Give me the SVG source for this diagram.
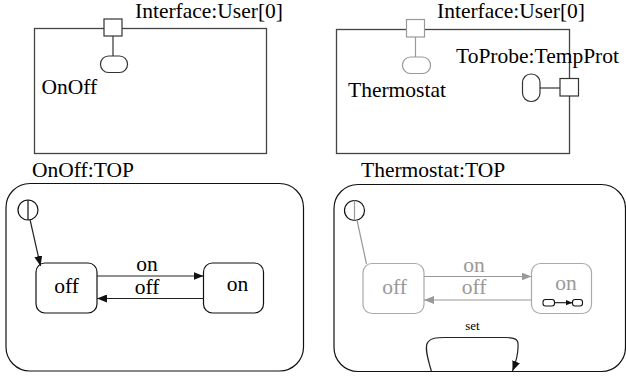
<svg xmlns="http://www.w3.org/2000/svg" width="626" height="376" viewBox="0 0 626 376" font-family="'Liberation Serif', 'DejaVu Serif', serif">
  <style>
    text { font-family: 'Liberation Serif', 'DejaVu Serif', serif; font-size: 21.5px; fill: #000; }
    .small { font-size: 13px; }
    .grey-text { fill: #999; }
    .frame { fill: #fff; stroke: #444; stroke-width: 1.3; }
    .port { fill: #fff; stroke: #333; stroke-width: 1.2; }
    .port-g { fill: #fff; stroke: #999; stroke-width: 1.2; }
    .wire { stroke: #333; stroke-width: 1.2; fill: none; }
    .wire-g { stroke: #999; stroke-width: 1.2; fill: none; }
    .region { fill: #fff; stroke: #111; stroke-width: 1.2; }
    .state { fill: #fff; stroke: #111; stroke-width: 1.2; }
    .state-g { fill: #fff; stroke: #aaa; stroke-width: 1.2; }
    .tr { stroke: #222; stroke-width: 1.2; fill: none; }
    .tr-g { stroke: #999; stroke-width: 1.2; fill: none; }
  </style>
  <defs>
    <marker id="arr" viewBox="0 0 10 8" refX="10" refY="4" markerWidth="10" markerHeight="8" markerUnits="userSpaceOnUse" orient="auto">
      <path d="M0,0 L10,4 L0,8 Z" fill="#111"/>
    </marker>
    <marker id="arr-g" viewBox="0 0 10 8" refX="10" refY="4" markerWidth="10" markerHeight="8" markerUnits="userSpaceOnUse" orient="auto">
      <path d="M0,0 L10,4 L0,8 Z" fill="#999"/>
    </marker>
    <marker id="arr-s" viewBox="0 0 10 8" refX="10" refY="4" markerWidth="7" markerHeight="6" markerUnits="userSpaceOnUse" orient="auto">
      <path d="M0,0 L10,4 L0,8 Z" fill="#111"/>
    </marker>
  </defs>

  <!-- Structure view of OnOff -->
  <g id="onoff-structure">
    <rect class="frame" x="34.5" y="28.5" width="232" height="125"/>
    <line class="wire" x1="113" y1="36" x2="113" y2="56"/>
    <rect class="port" x="104" y="19" width="18" height="17"/>
    <rect class="port" x="100.5" y="56" width="27" height="16.5" rx="8"/>
    <text x="135" y="18">Interface:User[0]</text>
    <text x="41.5" y="94">OnOff</text>
  </g>

  <!-- Structure view of Thermostat -->
  <g id="thermostat-structure">
    <rect class="frame" x="336.5" y="29.5" width="233" height="124"/>
    <line class="wire-g" x1="415.5" y1="37" x2="415.5" y2="57"/>
    <rect class="port-g" x="406.5" y="19.5" width="18" height="17.5"/>
    <rect class="port-g" x="402.5" y="57" width="28" height="16.5" rx="8"/>
    <text x="437" y="18">Interface:User[0]</text>
    <text x="348" y="96.5">Thermostat</text>
    <text x="456" y="63">ToProbe:TempProt</text>
    <line class="wire" x1="540" y1="88" x2="560" y2="88"/>
    <rect class="port" x="560" y="78.5" width="18.5" height="17.5"/>
    <rect class="port" x="522.5" y="74" width="17.5" height="27.5" rx="8.5"/>
  </g>

  <!-- OnOff:TOP state machine -->
  <g id="onoff-top">
    <text x="32" y="176.5">OnOff:TOP</text>
    <rect class="region" x="6" y="183.5" width="297.5" height="187.5" rx="24"/>
  </g>
  <g id="onoff-initial">
    <circle cx="28" cy="210" r="10" fill="#fff" stroke="#111" stroke-width="1.2"/>
    <line x1="28" y1="200" x2="28" y2="220" stroke="#111" stroke-width="1.2"/>
  </g>
  <g id="onoff-off">
    <rect class="state" x="36" y="263" width="61" height="50" rx="9"/>
    <text x="66.5" y="292.5" text-anchor="middle">off</text>
  </g>
  <g id="onoff-on">
    <rect class="state" x="203.5" y="263" width="60" height="50" rx="9"/>
    <text x="237.5" y="291" text-anchor="middle">on</text>
  </g>

  <!-- Thermostat:TOP state machine -->
  <g id="thermostat-top">
    <text x="361" y="176.5">Thermostat:TOP</text>
    <rect class="region" x="334" y="184.5" width="291.5" height="187" rx="24"/>
  </g>
  <g id="thermostat-initial">
    <circle cx="354.5" cy="210.5" r="10" fill="#fff" stroke="#111" stroke-width="1.2"/>
    <line x1="354.5" y1="200.5" x2="354.5" y2="220.5" stroke="#999" stroke-width="1.2"/>
  </g>
  <g id="thermostat-off">
    <rect class="state-g" x="363" y="263.5" width="61" height="50" rx="9"/>
    <text class="grey-text" x="394.5" y="293.5" text-anchor="middle">off</text>
  </g>
  <g id="thermostat-on">
    <rect class="state-g" x="531.5" y="263.5" width="60" height="50" rx="9"/>
    <text class="grey-text" x="566" y="290" text-anchor="middle">on</text>
    <!-- sub-machine indicator -->
    <rect x="543" y="299.5" width="11.5" height="6.5" rx="2.5" fill="#fff" stroke="#111" stroke-width="1.1"/>
    <rect x="572.5" y="299.5" width="10" height="6.5" rx="2.5" fill="#fff" stroke="#111" stroke-width="1.1"/>
    <line x1="554.5" y1="302.7" x2="572.5" y2="302.7" stroke="#111" stroke-width="1.1" marker-end="url(#arr-s)"/>
  </g>

  <!-- Transitions -->
  <g id="connectors">
    <line class="tr" x1="30" y1="219.5" x2="40.5" y2="266" marker-end="url(#arr)"/>
    <line class="tr" x1="97" y1="276" x2="203.5" y2="276" marker-end="url(#arr)"/>
    <line class="tr" x1="203.5" y1="298.5" x2="97" y2="298.5" marker-end="url(#arr)"/>
    <text x="147" y="271" text-anchor="middle">on</text>
    <text x="147" y="293.5" text-anchor="middle">off</text>

    <line class="tr-g" x1="357" y1="220" x2="366.5" y2="264"/>
    <line class="tr-g" x1="424" y1="276.5" x2="531.5" y2="276.5" marker-end="url(#arr-g)"/>
    <line class="tr-g" x1="531.5" y1="300" x2="424" y2="300" marker-end="url(#arr-g)"/>
    <text class="grey-text" x="474" y="271.5" text-anchor="middle">on</text>
    <text class="grey-text" x="474" y="293.5" text-anchor="middle">off</text>

    <path class="tr" d="M431.5,371.5 C428,360 424,346 428,342 C431,338 436,337.5 445,337.5 L505,337.5 C514,337.5 518,339 518,344 C518.5,352 516,362 512.5,371" marker-end="url(#arr)"/>
    <text class="small" x="472.5" y="330" text-anchor="middle">set</text>
  </g>
</svg>
